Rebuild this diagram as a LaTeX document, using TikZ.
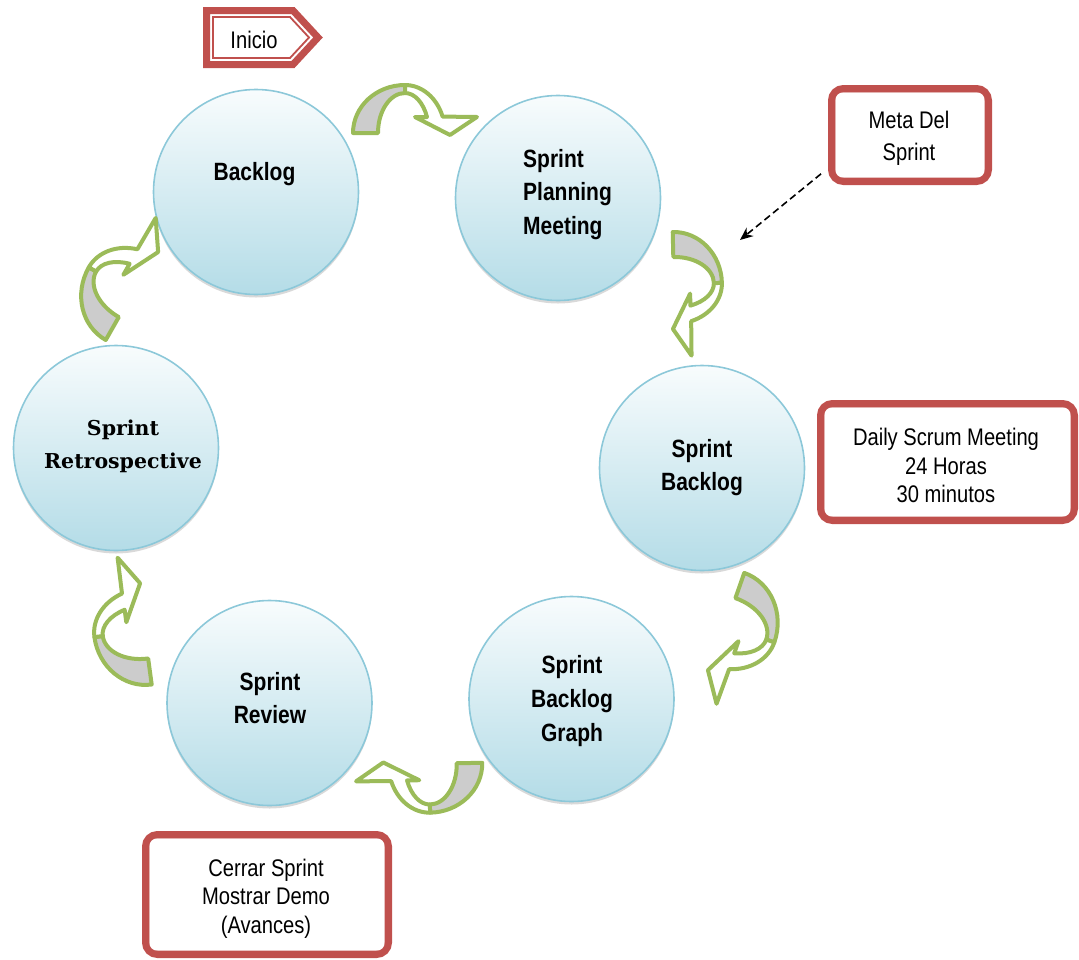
\documentclass[tikz,border=0pt]{standalone}
\usepackage{fontspec}
\setmainfont{Liberation Sans}
\newfontfamily\narrowsans[FakeStretch=0.84]{Liberation Sans}
\newfontfamily\slabserif{DejaVu Serif}
\usetikzlibrary{arrows.meta,shadows}

\definecolor{ringgreen}{RGB}{155,187,89}
\definecolor{tailgray}{RGB}{204,204,204}
\definecolor{framered}{RGB}{192,80,77}
\definecolor{bubbletop}{RGB}{248,252,253}
\definecolor{bubblebottom}{RGB}{180,220,231}
\definecolor{bubbleedge}{RGB}{140,200,217}

\tikzset{
  % curved cycle arrow: gray tail rising from the base, white band with head
  pics/cyclearrow/.style={code={
    \draw[ringarrow, fill=tailgray]
      (-12,0) arc[start angle=180, end angle=90, x radius=52, y radius=48]
      -- (40,40) arc[start angle=90, end angle=180, x radius=27, y radius=40] -- cycle;
    \draw[ringarrow, fill=white]
      (40,48) arc[start angle=90, end angle=20, x radius=40, y radius=48]
      -- (112,16) -- (85,-2) -- (50,16) -- (62,16)
      arc[start angle=23.6, end angle=90, x radius=24, y radius=40] -- cycle;
  }}
}

\begin{document}
\begin{tikzpicture}[x=1pt, y=1pt,
  ringarrow/.style={draw=ringgreen, line width=4pt, line join=round},
  bubble/.style={circle, minimum size=205pt, inner sep=0pt, draw=bubbleedge,
    line width=1.6pt, top color=bubbletop, bottom color=bubblebottom,
    drop shadow={shadow xshift=0pt, shadow yshift=-3pt, opacity=0.15, fill=black}},
  bubbletext/.style={font={\narrowsans\bfseries\fontsize{25}{33.5}\selectfont},
    align=center, inner sep=0pt, anchor=north},
  frame/.style={draw=framered, line width=7pt, rounded corners=12pt, fill=white, inner sep=0pt},
  innerframe/.style={draw=framered, line width=1.8pt, rounded corners=7pt},
  boxtext/.style={font={\narrowsans\fontsize{24}{28.5}\selectfont},
    align=center, inner sep=0pt, anchor=north},
  goalarrow/.style={line width=1.6pt, dash pattern=on 7pt off 4pt,
    -{Stealth[length=13pt,width=11pt]}, shorten <=9pt}
]
\useasboundingbox (0,0) rectangle (1079,-959);

% the six stages of the sprint cycle
\node[bubble] (backlog)       at (256,-192)   {};
\node[bubble] (planning)      at (558,-198)   {};
\node[bubble] (sprintbacklog) at (702,-468)   {};
\node[bubble] (graph)         at (571.5,-699) {};
\node[bubble] (review)        at (269.5,-703) {};
\node[bubble] (retro)         at (116,-448)   {};

\node[bubbletext] (backlog-label) at (254.5,-162) {Backlog};
\node[bubbletext, align=left, anchor=north west] (planning-label) at (523,-149)
  {Sprint\\Planning\\Meeting};
\node[bubbletext] (sprintbacklog-label) at (702,-439) {Sprint\\Backlog};
\node[bubbletext, font={\narrowsans\bfseries\fontsize{25}{34}\selectfont}] (graph-label)
  at (572,-655) {Sprint\\Backlog\\Graph};
\node[bubbletext] (review-label) at (270,-672) {Sprint\\Review};
\node[bubbletext, font={\slabserif\bfseries\fontsize{20.5}{33}\selectfont}] (retro-label)
  at (123,-420) {Sprint\\Retrospective};

% curved arrows between consecutive stages
\pic[rotate=0,      scale=1]     at (365,-133) {cyclearrow};
\pic[rotate=-88.7,  scale=1]     at (673,-244) {cyclearrow};
\pic[rotate=-109.3, scale=1.07]  at (740,-585) {cyclearrow};
\pic[rotate=181,    scale=1.02]  at (470,-763) {cyclearrow};
\pic[rotate=97.7,   scale=1.05]  at (150,-672) {cyclearrow};
\pic[rotate=60.4,   scale=1.055] at (112,-329) {cyclearrow};

% start tag
\draw[draw=framered, line width=7pt, fill=white]
  (206.5,-10.5) -- (293,-10.5) -- (318,-37.5) -- (293,-64.5) -- (206.5,-64.5) -- cycle;
\draw[draw=framered, line width=1.8pt]
  (213,-17) -- (290,-17) -- (309,-37.5) -- (290,-58) -- (213,-58) -- cycle;
\node[boxtext] (inicio) at (254,-30.5) {Inicio};

% note boxes
\node[frame, minimum width=157pt, minimum height=93pt]  (meta)   at (910,-135)    {};
\node[frame, minimum width=254pt, minimum height=117pt] (daily)  at (947.5,-462)  {};
\node[frame, minimum width=243pt, minimum height=120pt] (cerrar) at (267,-894.5)  {};
\foreach \b in {meta,daily,cerrar}
  \draw[innerframe] ([shift={(6.4,-6.4)}]\b.north west) rectangle ([shift={(-6.4,6.4)}]\b.south east);

\node[boxtext, font={\narrowsans\fontsize{24}{32}\selectfont}] (meta-text) at (909,-110.5) {Meta Del\\Sprint};
\node[boxtext] (daily-text) at (946,-428) {Daily Scrum Meeting\\24 Horas\\30 minutos};
\node[boxtext, font={\narrowsans\fontsize{24}{28.2}\selectfont}] (cerrar-text) at (266,-859)
  {Cerrar Sprint\\Mostrar Demo\\(Avances)};

% sprint goal feeds the planning meeting
\coordinate (goal) at (740,-240);
\draw[goalarrow] (meta.202) -- (goal);
\end{tikzpicture}
\end{document}
